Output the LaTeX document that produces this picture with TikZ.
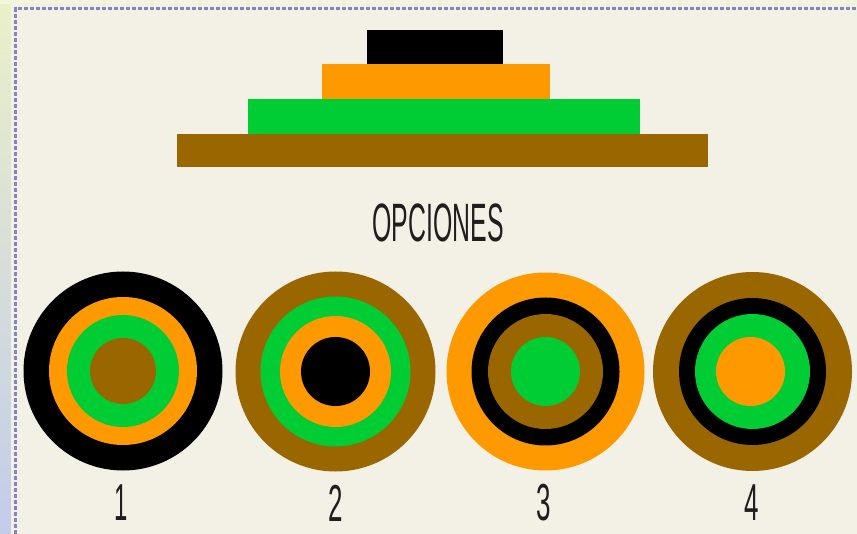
\documentclass[tikz,border=0pt]{standalone}
\usepackage{fontspec}
\setmainfont{Liberation Sans}
\definecolor{bgc}{HTML}{F3F1E5}
\definecolor{blk}{HTML}{000000}
\definecolor{org}{HTML}{FF9900}
\definecolor{grn}{HTML}{00CC33}
\definecolor{brn}{HTML}{996600}
\definecolor{brd}{HTML}{8484C0}
\definecolor{txt}{HTML}{1E1E1E}
\definecolor{stripTop}{HTML}{EAF0C8}
\definecolor{stripBot}{HTML}{C3CCEA}
\begin{document}
\begin{tikzpicture}[x=1pt,y=-1pt,
  bar/.style={rectangle, inner sep=0pt, outer sep=0pt, draw=none},
  ring/.style={circle, inner sep=0pt, outer sep=0pt, draw=none},
  lbl/.style={text=txt, font=\fontsize{52}{52}\selectfont, inner sep=0pt},
  ttl/.style={text=txt, font=\fontsize{54}{54}\selectfont, inner sep=0pt}]
% background
\shade[top color=stripTop, bottom color=stripBot] (0,0) rectangle (857,534);
\fill[stripTop!60!white] (0,0) rectangle (857,4);
\fill[bgc] (11,4) rectangle (857,534);
\useasboundingbox (0,0) rectangle (857,534);
% dotted border
\draw[brd, line width=3pt, dash pattern=on 4pt off 2pt] (15.5,540) -- (15.5,8.5) -- (860,8.5);
% pyramid
\node[bar, fill=brn, minimum width=531pt, minimum height=33pt] (b4) at (442.5,150.5) {};
\node[bar, fill=grn, minimum width=392pt, minimum height=35pt] (b3) at (444,116.5) {};
\node[bar, fill=org, minimum width=228pt, minimum height=35pt] (b2) at (436,81.5) {};
\node[bar, fill=blk, minimum width=136pt, minimum height=34pt] (b1) at (435,47) {};
% title
\node[ttl] (title) at (438,222.5) {\scalebox{0.46}[1]{OPCIONES}};
% option 1
\node[ring, fill=blk, minimum size=199pt] (o1a) at (123,371) {};
\node[ring, fill=org, minimum size=148pt] (o1b) at (123,371) {};
\node[ring, fill=grn, minimum size=112pt] (o1c) at (123,371) {};
\node[ring, fill=brn, minimum size=66pt] (o1d) at (123,371) {};
% option 2
\node[ring, fill=brn, minimum size=200pt] (o2a) at (335.5,371.5) {};
\node[ring, fill=grn, minimum size=150pt] (o2b) at (335.5,371.5) {};
\node[ring, fill=org, minimum size=111pt] (o2c) at (335.5,371.5) {};
\node[ring, fill=blk, minimum size=69pt] (o2d) at (335.5,371.5) {};
% option 3
\node[ring, fill=org, minimum size=198pt] (o3a) at (545.5,371.5) {};
\node[ring, fill=blk, minimum size=148pt] (o3b) at (545.5,371.5) {};
\node[ring, fill=brn, minimum size=115pt] (o3c) at (545.5,371.5) {};
\node[ring, fill=grn, minimum size=69pt] (o3d) at (545.5,371.5) {};
% option 4
\node[ring, fill=brn, minimum size=199pt] (o4a) at (752.5,371.5) {};
\node[ring, fill=blk, minimum size=147pt] (o4b) at (752.5,371.5) {};
\node[ring, fill=grn, minimum size=115pt] (o4c) at (752.5,371.5) {};
\node[ring, fill=org, minimum size=69pt] (o4d) at (750.5,371.5) {};
% labels
\node[lbl] (l1) at (121,503) {\scalebox{0.46}[1]{1}};
\node[lbl] (l2) at (336,503) {\scalebox{0.5}[1]{2}};
\node[lbl] (l3) at (544,503) {\scalebox{0.5}[1]{3}};
\node[lbl] (l4) at (752,503) {\scalebox{0.5}[1]{4}};
\end{tikzpicture}
\end{document}
